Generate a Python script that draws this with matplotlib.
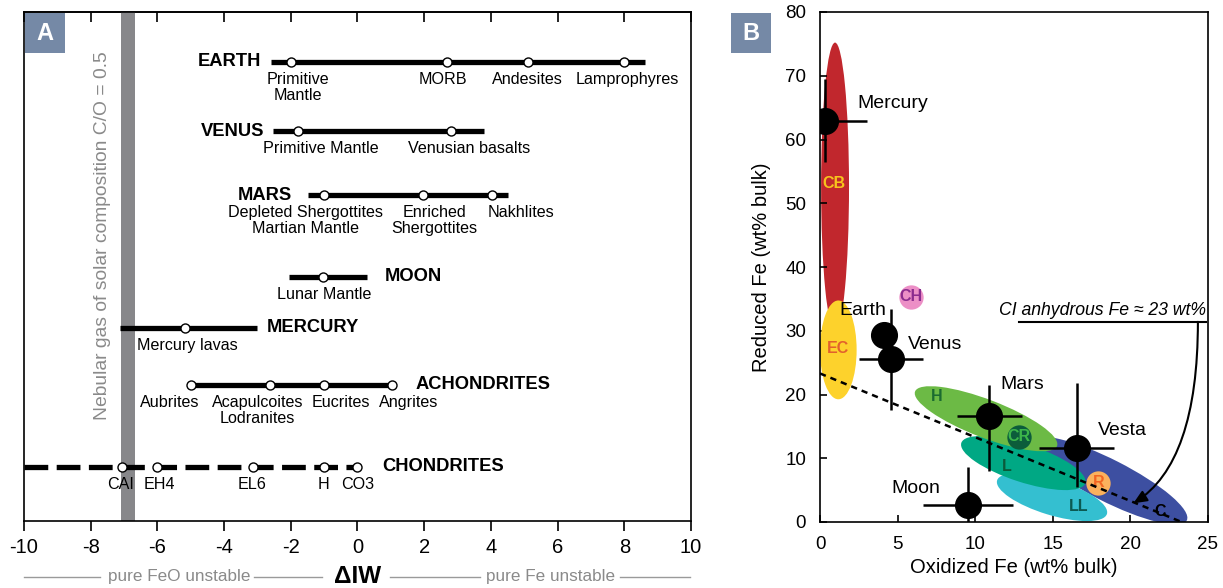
import numpy as np
import matplotlib.pyplot as plt
from matplotlib.patches import Ellipse, Rectangle
from matplotlib.transforms import Affine2D

plt.rcParams['font.family'] = ['Liberation Sans', 'DejaVu Sans']

# ---- panel A: redox ranges (delta IW) of planetary bodies and meteorites ----
bodies = ['EARTH', 'VENUS', 'MARS', 'MOON', 'MERCURY', 'ACHONDRITES', 'CHONDRITES']
iw_ranges = [(-2.6, 8.62), (-2.53, 3.79), (-1.48, 4.51), (-2.05, 0.28),
             (-7.12, -3.01), (-4.99, 1.02), (-10.0, 0.0)]
iw_points = [[-2.0, 2.67, 5.1, 8.0],
             [-1.79, 2.8],
             [-0.99, 1.97, 4.02],
             [-1.03],
             [-5.17],
             [-4.99, -2.62, -0.99, 1.02],
             [-7.06, -6.01, -3.13, -0.99, 0.0]]
point_names = [['Primitive\nMantle', 'MORB', 'Andesites', 'Lamprophyres'],
               ['Primitive Mantle', 'Venusian basalts'],
               ['Depleted Shergottites\nMartian Mantle', 'Enriched\nShergottites', 'Nakhlites'],
               ['Lunar Mantle'],
               ['Mercury lavas'],
               ['Aubrites', 'Acapulcoites\nLodranites', 'Eucrites', 'Angrites'],
               ['CAI', 'EH4', 'EL6', 'H', 'CO3']]
name_x = [[-1.8, 2.56, 5.08, 8.1],
          [-1.1, 3.34],
          [-1.55, 2.3, 4.9],
          [-1.0],
          [-5.11],
          [-5.62, -3.0, -0.5, 1.54],
          [-7.1, -5.93, -3.15, -1.03, 0.0]]
body_label_x = [-2.9, -2.8, -1.96, 0.82, -2.73, 1.75, 0.75]
body_label_ha = ['right', 'right', 'right', 'left', 'left', 'left', 'left']
row_y = [50, 119, 183, 265, 316, 373, 455]
nebular_band = (-7.09, -6.66)
iw_ticks = np.arange(-10, 11, 2)

# ---- panel B: reduced vs oxidized iron ----
planets = ['Mercury', 'Earth', 'Venus', 'Mars', 'Vesta', 'Moon']
ox_fe = [0.32, 4.14, 4.57, 10.91, 16.54, 9.56]
red_fe = [62.95, 29.3, 25.5, 16.67, 11.55, 2.67]
ox_err = [2.7, 0.0, 2.05, 2.1, 2.4, 2.9]
red_err_lo = [6.5, 0.0, 7.9, 8.6, 6.0, 5.9]
red_err_hi = [6.5, 0.0, 7.9, 4.8, 10.2, 5.9]
planet_lbl = [(2.43, 65.7, 'left'), (4.24, 33.1, 'right'), (5.69, 27.9, 'left'),
              (11.64, 21.5, 'left'), (17.9, 14.4, 'left'), (4.62, 5.3, 'left')]

# tilted ordinary chondrite / C fields (centre, extent along and across, tilt)
groups = ['C', 'LL', 'L', 'H']
group_cx = [18.6, 14.95, 13.1, 10.7]
group_cy = [6.5, 3.9, 9.25, 16.2]
group_len = [11.3, 7.4, 8.4, 9.8]
group_wid = [2.7, 2.3, 2.45, 2.45]
group_tilt = [-27, -17, -18, -21]
group_col = ['#3d4fa1', '#34bfd0', '#00a884', '#6cba45']
group_txt = [(21.9, 1.6, 'k'), (16.64, 2.4, '#0b5a52'), (12.03, 8.7, '#0b5a3a'),
             (7.52, 19.65, '#1b6b30')]

# enstatite / CB fields (upright)
cb_field = (0.97, 52.6, 1.8, 45.2)
ec_field = (1.18, 27.0, 2.36, 15.5)

# single-value groups
small_groups = ['CH', 'CR', 'R']
small_x = [5.84, 12.82, 17.93]
small_y = [35.35, 13.4, 6.17]
small_face = ['#ec8fc6', '#0c5c3b', '#fbb15d']
small_text = ['#8b2c8e', '#3cb64a', '#f26522']

ci_total_fe = 23.3

fig = plt.figure(figsize=(12.23, 5.88), dpi=100)

# ================= panel A =================
axA = fig.add_axes([24 / 1223, 67 / 588, 667 / 1223, 509 / 588])
axA.set_xlim(-10, 10)
axA.set_ylim(509, 0)
axA.axvspan(*nebular_band, color='#87878a', lw=0, zorder=1)
axA.text(-7.65, 224, 'Nebular gas of solar composition C/O = 0.5', rotation=90,
         ha='center', va='center', fontsize=13.9, color='#8a8a8a')

for i, body in enumerate(bodies):
    y = row_y[i]
    x0, x1 = iw_ranges[i]
    if body == 'CHONDRITES':
        axA.plot([x0, x1], [y, y], color='k', lw=3.8, ls=(0, (4.5, 1.6)),
                 solid_capstyle='butt', zorder=2, clip_on=False)
    else:
        axA.plot([x0, x1], [y, y], color='k', lw=3.8, solid_capstyle='butt', zorder=2)
    axA.plot(iw_points[i], [y] * len(iw_points[i]), 'o', ms=6.5, mfc='white',
             mec='k', mew=1.0, zorder=3, clip_on=False)
    for nm, nx in zip(point_names[i], name_x[i]):
        axA.annotate(nm, (nx, y), xytext=(0, -7), textcoords='offset points',
                     ha='center', va='top', fontsize=11.6, linespacing=1.08, zorder=4)
    axA.text(body_label_x[i], y, body, ha=body_label_ha[i], va='center',
             fontsize=13.2, fontweight='bold')

axA.set_xticks(iw_ticks)
axA.set_xticklabels([str(t) for t in iw_ticks], fontsize=14.5)
axA.tick_params(axis='x', direction='out', length=7, width=1.2, pad=5)
axA.set_yticks([])
top = axA.secondary_xaxis('top')
top.set_xticks(iw_ticks)
top.set_xticklabels([])
top.tick_params(direction='in', length=7, width=1.2)
for sp in list(axA.spines.values()) + list(top.spines.values()):
    sp.set_linewidth(1.2)

# redox stability notes under the axis
xt = axA.get_xaxis_transform()
for a, b in [(-10, -7.72), (-3.1, -1.06), (0.97, 3.67), (7.87, 9.97)]:
    axA.plot([a, b], [-0.11, -0.11], color='#9a9a9a', lw=1.0, transform=xt, clip_on=False)
axA.text(-5.34, -0.11, 'pure FeO unstable', transform=xt, ha='center', va='center',
         fontsize=12.3, color='#8a8a8a')
axA.text(5.79, -0.11, 'pure Fe unstable', transform=xt, ha='center', va='center',
         fontsize=12.3, color='#8a8a8a')
axA.text(0.0, -0.11, '\u0394IW', transform=xt, ha='center', va='center',
         fontsize=17.5, fontweight='bold')

# ================= panel B =================
axB = fig.add_axes([820 / 1223, 66 / 588, 388 / 1223, 510 / 588])
axB.set_xlim(0, 25)
axB.set_ylim(0, 80)
k = (388 / 25) / (510 / 80)


def tilted_field(ax, cx, cy, length, width, angle, **kw):
    tr = Affine2D().scale(1, k) + ax.transData
    e = Ellipse((cx, cy / k), length, width, angle=angle, transform=tr, **kw)
    ax.add_patch(e)


cx, cy, w, h = cb_field
axB.add_patch(Ellipse((cx, cy), w, h, color='#c1272d', lw=0, zorder=1))
cx, cy, w, h = ec_field
axB.add_patch(Ellipse((cx, cy), w, h, color='#fdd22c', lw=0, zorder=2))
axB.text(0.9, 53.1, 'CB', color='#f7c41c', fontsize=11.5, fontweight='bold',
         ha='center', va='center', zorder=3)
axB.text(1.14, 27.2, 'EC', color='#e2612b', fontsize=11.5, fontweight='bold',
         ha='center', va='center', zorder=3)

for i, g in enumerate(groups):
    tilted_field(axB, group_cx[i], group_cy[i], group_len[i], group_wid[i],
                 group_tilt[i], color=group_col[i], lw=0, zorder=2 + i * 0.1)
    tx, ty, tc = group_txt[i]
    axB.text(tx, ty, g, color=tc, fontsize=11.5, fontweight='bold',
             ha='center', va='center', zorder=3)

for g, x, y, fc, tc in zip(small_groups, small_x, small_y, small_face, small_text):
    axB.plot(x, y, 'o', ms=17.5, color=fc, mew=0, zorder=3)
    axB.text(x, y, g, color=tc, fontsize=11.5, fontweight='bold',
             ha='center', va='center', zorder=3.1)

# constant total Fe of anhydrous CI
xs = np.array([0, ci_total_fe])
axB.plot(xs, ci_total_fe - xs, color='k', lw=1.8, ls=(0, (2.5, 2)), zorder=4)

axB.errorbar(ox_fe, red_fe, xerr=ox_err, yerr=[red_err_lo, red_err_hi], fmt='o',
             ms=18.5, color='k', elinewidth=1.8, capsize=0, zorder=5)
for name, (lx, ly, ha) in zip(planets, planet_lbl):
    axB.text(lx, ly, name, ha=ha, va='center', fontsize=14, zorder=6)

axB.text(24.9, 33.1, 'CI anhydrous Fe \u2248 23 wt%', style='italic', fontsize=12.7,
         ha='right', va='center', zorder=6)
axB.plot([12.8, 24.9], [31.4, 31.4], color='k', lw=1.5, zorder=6)
axB.annotate('', xy=(20.19, 2.93), xytext=(24.35, 31.4),
             arrowprops=dict(arrowstyle='-|>,head_length=0.8,head_width=0.35',
                             connectionstyle='angle3,angleA=90,angleB=32',
                             color='k', lw=1.5, shrinkA=0, shrinkB=0), zorder=6)

axB.set_xticks(np.arange(0, 26, 5))
axB.set_yticks(np.arange(0, 81, 10))
axB.tick_params(direction='in', length=5, width=1.2, labelsize=13.5, pad=10)
for sp in axB.spines.values():
    sp.set_linewidth(1.2)
    sp.set_zorder(7)
axB.set_xlabel('Oxidized Fe (wt% bulk)', fontsize=14.5, labelpad=4)
axB.set_ylabel('Reduced Fe (wt% bulk)', fontsize=14.5, labelpad=10)

# panel tags
for tag, x0 in [('A', 25), ('B', 731)]:
    fig.patches.append(Rectangle((x0 / 1223, 1 - 53 / 588), 40 / 1223, 40 / 588,
                                 transform=fig.transFigure, color='#7589a6', lw=0, zorder=10))
    fig.text((x0 + 20) / 1223, 1 - 33 / 588, tag, color='white', fontsize=17,
             fontweight='bold', ha='center', va='center', zorder=11)

fig.savefig('out.png', dpi=100)
